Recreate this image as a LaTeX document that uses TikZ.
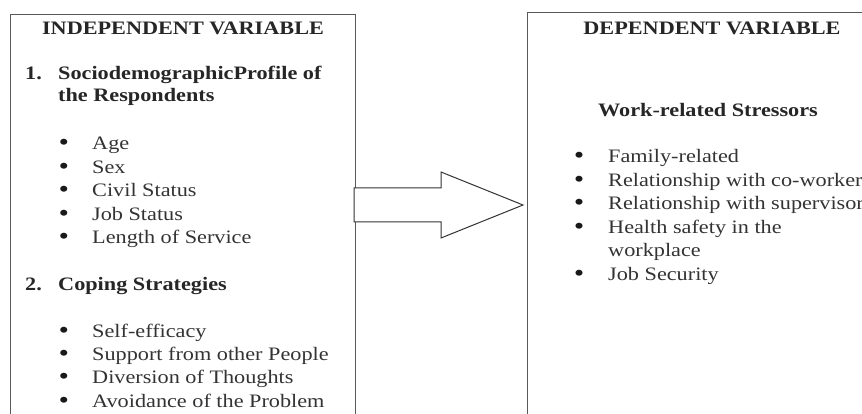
\documentclass[tikz,border=0pt]{standalone}
\usepackage{fontspec}
\setmainfont[FakeStretch=1.17]{Liberation Serif}
\usetikzlibrary{calc}

\tikzset{
  varbox/.style={draw=black!65, line width=1pt, anchor=north west, inner sep=0pt},
  bigarrow/.style={draw=black!80, line width=1pt, fill=white, line join=miter},
  headtxt/.style={font=\bfseries\fontsize{19}{23}\selectfont, anchor=base, inner sep=0pt, text=black!85},
  numtxt/.style={font=\bfseries\fontsize{19}{23}\selectfont, anchor=base west, inner sep=0pt, text=black!85},
  entry/.style={font=\fontsize{19}{23}\selectfont, anchor=base west, inner sep=0pt, text=black!80},
  dot/.style={font=\bfseries\fontsize{22}{24}\selectfont, anchor=base, inner sep=0pt, text=black!90},
}

\begin{document}
\begin{tikzpicture}[x=1pt,y=-1pt]
\useasboundingbox (0,0) rectangle (862,414);
\clip (0,0) rectangle (862,414);

% the two boxes (cut off at the bottom and on the right)
\node[varbox, minimum width=345pt, minimum height=440pt] (indep) at (10,14) {};
\node[varbox, minimum width=360pt, minimum height=440pt] (dep) at (527,12) {};

% independent variable
\node[headtxt] (indeptitle) at (183,35) {INDEPENDENT VARIABLE};
\node[numtxt] (num1) at (25,80) {1.};
\node[numtxt] (socio) at (58,80) {SociodemographicProfile of};
\node[numtxt] (resp) at (58,102) {the Respondents};
\foreach \txt [count=\i] in {Age, Sex, Civil Status, Job Status, Length of Service} {
  \node[dot] (pdot\i) at (64,126.6+23.4*\i) {\textbullet};
  \node[entry] (prof\i) at (92,126.6+23.4*\i) {\txt};
}
\node[numtxt] (num2) at (25,290) {2.};
\node[numtxt] (coping) at (58,290) {Coping Strategies};
\foreach \txt [count=\i] in {Self-efficacy, Support from other People, Diversion of Thoughts, Avoidance of the Problem} {
  \node[dot] (cdot\i) at (64,313.6+23.4*\i) {\textbullet};
  \node[entry] (cope\i) at (92,313.6+23.4*\i) {\txt};
}

% dependent variable
\node[headtxt] (deptitle) at (712,35) {DEPENDENT VARIABLE};
\node[numtxt] (stress) at (598,117) {Work-related Stressors};
\foreach \txt/\y [count=\i] in {Family-related/163, Relationship with co-workers/186.4,
    Relationship with supervisors/209.8, Health safety in the/233.2, Job Security/280} {
  \node[dot] (sdot\i) at (579,\y) {\textbullet};
  \node[entry] (str\i) at (608,\y) {\txt};
}
\node[entry] (workplace) at (608,256.6) {workplace};

% block arrow between the boxes
\coordinate (tip) at ($(dep.north west)+(-4,193)$);
\draw[bigarrow] ($(indep.north east)+(-2,174)$) -- ++(87,0) -- ++(0,-16)
  -- (tip) -- ($(indep.north east)+(85,224)$) -- ++(0,-16) -- ($(indep.north east)+(-2,208)$) -- cycle;
\end{tikzpicture}
\end{document}
